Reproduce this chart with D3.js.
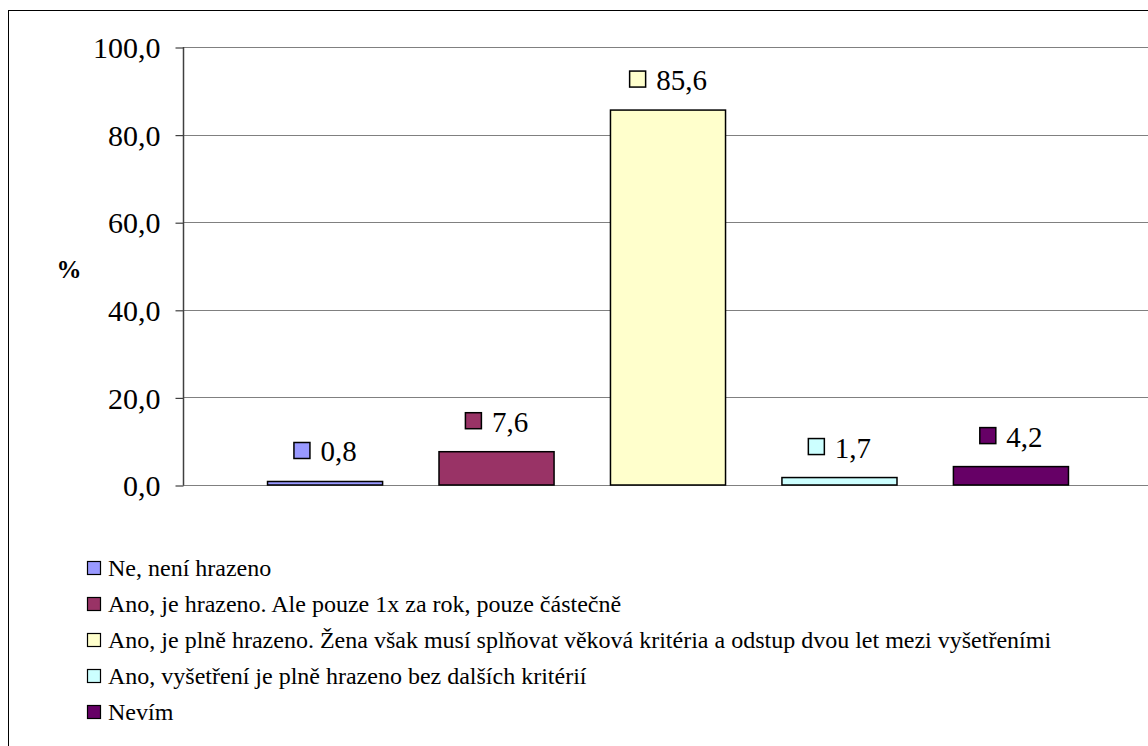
<!DOCTYPE html>
<html><head><meta charset="utf-8">
<script src="https://cdn.jsdelivr.net/npm/d3@7"></script>
<style>body{margin:0;background:#fff}svg{display:block}</style>
</head><body><svg id="c" width="1148" height="746"></svg>
<script>
const seriesNames = [
  "Ne, není hrazeno",
  "Ano, je hrazeno. Ale pouze 1x za rok, pouze částečně",
  "Ano, je plně hrazeno. Žena však musí splňovat věková kritéria a odstup dvou let mezi vyšetřeními",
  "Ano, vyšetření je plně hrazeno bez dalších kritérií",
  "Nevím"
];
const values = [0.8, 7.6, 85.6, 1.7, 4.2];
const colors = ["#9999FF", "#993366", "#FFFFCC", "#CCFFFF", "#660066"];
const yTicks = [0, 20, 40, 60, 80, 100];
const yLabel = "%";

const FONT = "'Liberation Serif', 'Times New Roman', serif";
const svg = d3.select("#c");
const fmt = v => d3.format(".1f")(v).replace(".", ",");

// outer frame
svg.append("rect").attr("x", 8.5).attr("y", 10.5).attr("width", 1200).attr("height", 800)
  .attr("fill", "none").attr("stroke", "#000").attr("stroke-width", 1);

const x = d3.scaleBand().domain(seriesNames).range([183, 1153]).paddingInner(0.329).paddingOuter(0.493);
const y = d3.scaleLinear().domain([0, 100]).range([485, 47]);

// gridlines
svg.append("g").selectAll("line").data(yTicks).join("line")
  .attr("x1", 183).attr("x2", 1153)
  .attr("y1", d => Math.round(y(d)) + 0.5).attr("y2", d => Math.round(y(d)) + 0.5)
  .attr("stroke", "#808080").attr("stroke-width", 1.2);

// y axis
const yAxis = d3.axisLeft(y).tickValues(yTicks).tickFormat(fmt).tickSize(8).tickPadding(15);
const ga = svg.append("g").attr("transform", "translate(183.5,0.5)").call(yAxis);
ga.attr("font-family", null).attr("font-size", null);
ga.select(".domain").attr("stroke", "#404040").attr("stroke-width", 1.5).attr("d", `M0,${y(100)-0.5}V${y(0)}`);
ga.selectAll(".tick line").attr("stroke", "#404040").attr("stroke-width", 1.2);
ga.selectAll(".tick text").attr("fill", "#000").attr("dy", "0.34em").style("font-family", FONT).style("font-size", "30px");

svg.append("text").attr("x", 69).attr("y", 278).attr("text-anchor", "middle")
  .style("font-family", FONT).style("font-size", "25px").attr("font-weight", "bold").text(yLabel);

// bars
svg.append("g").selectAll("rect").data(values).join("rect")
  .attr("x", (d, i) => x(seriesNames[i]))
  .attr("width", x.bandwidth())
  .attr("y", d => y(d))
  .attr("height", d => y(0) - y(d))
  .attr("fill", (d, i) => colors[i])
  .attr("stroke", "#000").attr("stroke-width", 1.5);

// data labels (key square + value, centred over the bar)
const lab = svg.append("g").selectAll("g").data(values).join("g")
  .attr("transform", (d, i) => `translate(${x(seriesNames[i]) + x.bandwidth() / 2},${y(d) - 31})`);
const sq = lab.append("rect").attr("y", -8).attr("width", 16).attr("height", 16)
  .attr("fill", (d, i) => colors[i]).attr("stroke", "#000").attr("stroke-width", 1.5);
const lt = lab.append("text").attr("y", 11).style("font-family", FONT).style("font-size", "29px").text(d => fmt(d));
lt.each(function () {
  const tw = this.getComputedTextLength();
  const total = 17 + 10 + tw;
  const start = -total / 2;
  d3.select(this).attr("x", start + 27);
  d3.select(this.parentNode).select("rect").attr("x", start + 0.5);
});

// legend
const lg = svg.append("g").selectAll("g").data(seriesNames).join("g")
  .attr("transform", (d, i) => `translate(87,${568 + i * 36})`);
lg.append("rect").attr("x", 0.5).attr("y", -6.5).attr("width", 13).attr("height", 13)
  .attr("fill", (d, i) => colors[i]).attr("stroke", "#000").attr("stroke-width", 1.2);
lg.append("text").attr("x", 21).attr("y", 8).style("font-family", FONT).style("font-size", "24px").text(d => d);
</script></body></html>
